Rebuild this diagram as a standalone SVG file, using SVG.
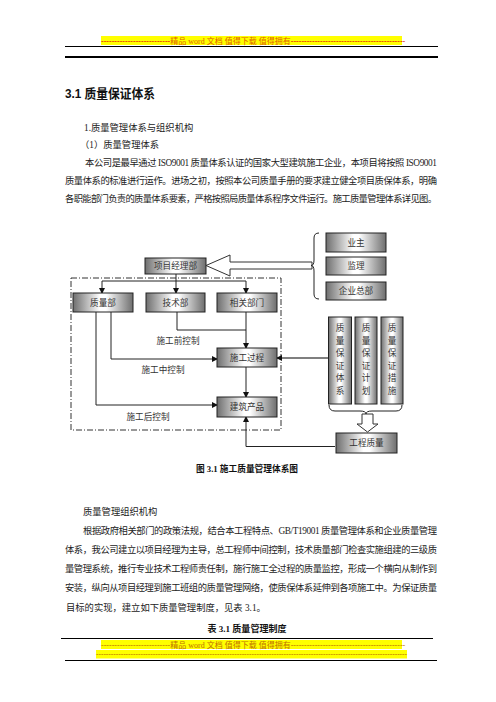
<svg xmlns="http://www.w3.org/2000/svg" width="496" height="702" viewBox="0 0 496 702">
<style>
.body{font-family:"Liberation Serif","Noto Sans CJK SC",serif;font-size:9.3px;fill:#222}
.bx{fill:url(#g);stroke:#222;stroke-width:1}
.vx{fill:url(#g);stroke:#222;stroke-width:1}
.bt{font-family:"Liberation Serif","Noto Sans CJK SC",serif;font-size:8.6px;fill:#333;text-anchor:middle}
.ln{fill:none;stroke:#222;stroke-width:1}
.hd{font-family:"Liberation Serif","Noto Sans CJK SC",serif;font-size:8px}
</style>
<defs>
<linearGradient id="g" x1="0" y1="0" x2="1" y2="0">
<stop offset="0" stop-color="#6e6e6e"/>
<stop offset="0.45" stop-color="#ffffff"/>
<stop offset="0.55" stop-color="#ffffff"/>
<stop offset="1" stop-color="#6e6e6e"/>
</linearGradient>
<marker id="ah" markerWidth="6" markerHeight="6" refX="5" refY="3" orient="auto" markerUnits="userSpaceOnUse">
<path d="M0,0 L6,3 L0,6 Z" fill="#111"/>
</marker>
</defs>
<rect width="496" height="702" fill="#fff"/>

<!-- header -->
<rect x="101" y="36" width="301" height="9" fill="#ffff00"/>
<text class="hd" x="101" y="43.5" fill="#e00000">--------------------------<tspan fill="#e06000">精品 word 文档  值得下载  值得拥有</tspan>-------------------------------------------</text>
<line x1="65" y1="46.5" x2="438" y2="46.5" stroke="#000" stroke-width="1"/>
<line x1="65" y1="57" x2="438" y2="57" stroke="#000" stroke-width="2"/>

<!-- title and text -->
<text x="65" y="98" font-family="Liberation Sans,Noto Sans CJK SC,sans-serif" font-size="13" font-weight="bold" fill="#111" textLength="90" lengthAdjust="spacingAndGlyphs">3.1 质量保证体系</text>
<text class="body" x="84" y="131">1.质量管理体系与组织机构</text>
<text class="body" x="80" y="148">（1）质量管理体系</text>
<text class="body" x="85" y="166" textLength="352" lengthAdjust="spacing">本公司是最早通过 ISO9001 质量体系认证的国家大型建筑施工企业，本项目将按照 ISO9001</text>
<text class="body" x="65" y="184" textLength="372" lengthAdjust="spacing">质量体系的标准进行运作。进场之初，按照本公司质量手册的要求建立健全项目质保体系，明确</text>
<text class="body" x="65" y="202" textLength="372" lengthAdjust="spacing">各职能部门负责的质量体系要素，严格按照局质量体系程序文件运行。施工质量管理体系详见图。</text>

<!-- connectors -->
<g id="connectors">
<rect x="71" y="278" width="210" height="152" fill="none" stroke="#333" stroke-width="1" stroke-dasharray="6,2,1,2"/>
<polyline class="ln" points="176,274 176,281"/>
<polyline class="ln" points="102,281 246,281"/>
<line class="ln" x1="102" y1="281" x2="102" y2="293" marker-end="url(#ah)"/>
<line class="ln" x1="176" y1="281" x2="176" y2="293" marker-end="url(#ah)"/>
<line class="ln" x1="246" y1="281" x2="246" y2="293" marker-end="url(#ah)"/>
<polyline class="ln" points="177,312 177,330 246,330"/>
<line class="ln" x1="246" y1="312" x2="246" y2="348" marker-end="url(#ah)"/>
<polyline class="ln" points="111,312 111,359 217,359" marker-end="url(#ah)"/>
<polyline class="ln" points="96,312 96,405 217,405" marker-end="url(#ah)"/>
<line class="ln" x1="246" y1="367" x2="246" y2="397" marker-end="url(#ah)"/>
<line x1="328" y1="358" x2="277" y2="358" stroke="#555" stroke-width="1.3" marker-end="url(#ah)"/>
<polyline class="ln" points="335,446.5 246,446.5 246,417" marker-end="url(#ah)"/>
<polygon points="206,265.5 230,255 230,262 312,262 312,269 230,269 230,276" fill="#fff" stroke="#333" stroke-width="1"/>
<path class="ln" d="M319,233 Q314,233 314,238 L314,260 Q314,265.5 311,265.5 Q314,265.5 314,271 L314,294 Q314,299 319,299"/>
<path class="ln" d="M329,405 Q329,411 335,411 L360,411 Q366,411 366,414 M366,414 Q366,411 372,411 L396,411 Q402,411 402,405"/>
<polygon points="362,414 373,414 373,424 378,424 367.5,432 357,424 362,424" fill="#fff" stroke="#333" stroke-width="1"/>
<text class="bt" x="178" y="344">施工前控制</text>
<text class="bt" x="163" y="373">施工中控制</text>
<text class="bt" x="148" y="420">施工后控制</text>
</g>

<g id="xmjlb"><rect class="bx" x="145" y="258" width="61" height="16"/><text class="bt" x="175.5" y="269">项目经理部</text></g>
<g id="yz"><rect class="bx" x="326" y="233" width="60" height="19"/><text class="bt" x="356" y="245.5">业主</text></g>
<g id="jl"><rect class="bx" x="326" y="257" width="60" height="18"/><text class="bt" x="356" y="269">监理</text></g>
<g id="qyzb"><rect class="bx" x="326" y="282" width="60" height="18"/><text class="bt" x="356" y="294">企业总部</text></g>
<g id="zlb"><rect class="bx" x="73" y="293" width="60" height="19"/><text class="bt" x="103" y="305.5">质量部</text></g>
<g id="jsb"><rect class="bx" x="146" y="293" width="59" height="19"/><text class="bt" x="175.5" y="305.5">技术部</text></g>
<g id="xgbm"><rect class="bx" x="217" y="293" width="60" height="19"/><text class="bt" x="247" y="305.5">相关部门</text></g>
<g id="sggc"><rect class="bx" x="217" y="348" width="60" height="19"/><text class="bt" x="247" y="360.5">施工过程</text></g>
<g id="jzcp"><rect class="bx" x="217" y="397" width="60" height="20"/><text class="bt" x="247" y="410">建筑产品</text></g>
<g id="gczl"><rect class="bx" x="336" y="433" width="61" height="20"/><text class="bt" x="366.5" y="446">工程质量</text></g>
<g id="col1"><rect class="vx" x="328.5" y="317" width="23" height="87"/>
<text class="bt" x="340"><tspan x="340" y="331">质</tspan><tspan x="340" y="343.6">量</tspan><tspan x="340" y="356.2">保</tspan><tspan x="340" y="368.8">证</tspan><tspan x="340" y="381.4">体</tspan><tspan x="340" y="394">系</tspan></text></g>
<g id="col2"><rect class="vx" x="355" y="317" width="22" height="87"/>
<text class="bt" x="366"><tspan x="366" y="331">质</tspan><tspan x="366" y="343.6">量</tspan><tspan x="366" y="356.2">保</tspan><tspan x="366" y="368.8">证</tspan><tspan x="366" y="381.4">计</tspan><tspan x="366" y="394">划</tspan></text></g>
<g id="col3"><rect class="vx" x="381" y="317" width="22" height="87"/>
<text class="bt" x="392"><tspan x="392" y="331">质</tspan><tspan x="392" y="343.6">量</tspan><tspan x="392" y="356.2">保</tspan><tspan x="392" y="368.8">证</tspan><tspan x="392" y="381.4">措</tspan><tspan x="392" y="394">施</tspan></text></g>

<text x="247" y="471.5" text-anchor="middle" font-family="Liberation Serif,Noto Sans CJK SC,serif" font-size="9" font-weight="bold" fill="#111" textLength="102" lengthAdjust="spacingAndGlyphs">图 3.1 施工质量管理体系图</text>

<text class="body" x="83" y="515">质量管理组织机构</text>
<text class="body" x="83" y="534" textLength="354" lengthAdjust="spacing">根据政府相关部门的政策法规，结合本工程特点、GB/T19001 质量管理体系和企业质量管理</text>
<text class="body" x="65" y="553" textLength="372" lengthAdjust="spacing">体系，我公司建立以项目经理为主导，总工程师中间控制，技术质量部门检查实施组建的三级质</text>
<text class="body" x="65" y="572" textLength="372" lengthAdjust="spacing">量管理系统，推行专业技术工程师责任制，施行施工全过程的质量监控，形成一个横向从制作到</text>
<text class="body" x="65" y="591" textLength="372" lengthAdjust="spacing">安装，纵向从项目经理到施工班组的质量管理网络，使质保体系延伸到各项施工中。为保证质量</text>
<text class="body" x="66" y="611">目标的实现，建立如下质量管理制度，见表 3.1。</text>
<text x="247" y="632" text-anchor="middle" font-family="Liberation Serif,Noto Sans CJK SC,serif" font-size="9" font-weight="bold" fill="#111" textLength="79" lengthAdjust="spacingAndGlyphs">表 3.1  质量管理制度</text>

<!-- footer -->
<line x1="61" y1="638.5" x2="433" y2="638.5" stroke="#000" stroke-width="1"/>
<rect x="101" y="640" width="301" height="9" fill="#ffff00"/>
<text class="hd" x="101" y="647.5" fill="#c07000">--------------------------精品 word 文档  值得下载  值得拥有-------------------------------------------</text>
<rect x="96" y="650" width="311" height="8.5" fill="#ffff00"/>
<text class="hd" x="96" y="657" fill="#c07000" textLength="311" lengthAdjust="spacingAndGlyphs">------------------------------------------------------------------------------------------------------------------------------</text>
<line x1="65" y1="660.5" x2="437" y2="660.5" stroke="#000" stroke-width="1"/>
</svg>
